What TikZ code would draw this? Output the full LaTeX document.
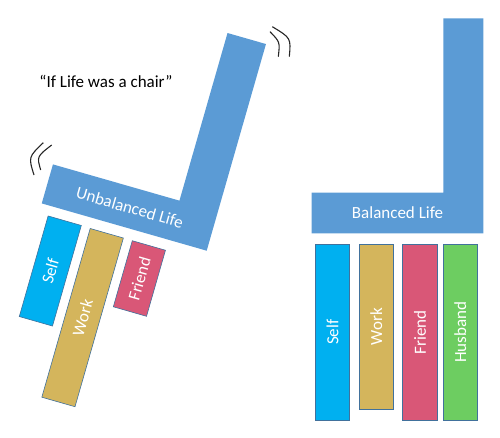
\documentclass[tikz,border=0pt]{standalone}
\usepackage{fontspec}
\setmainfont{Carlito}
\definecolor{lifeblue}{HTML}{5B9BD5}
\definecolor{selfc}{HTML}{00B0F0}
\definecolor{workc}{HTML}{D4B55C}
\definecolor{friendc}{HTML}{D95777}
\definecolor{husbc}{HTML}{6DCD61}
\definecolor{outl}{HTML}{41719C}
\begin{document}
\begin{tikzpicture}[x=1pt,y=-1pt,
  lshape/.style={fill=lifeblue},
  lifelabel/.style={text=white,font=\fontsize{17}{20}\selectfont,inner sep=0pt},
  bar/.style={draw=outl,line width=0.6pt,text=white,font=\fontsize{17}{20}\selectfont,
    inner sep=0pt,outer sep=0pt,minimum height=34.5},
  wig/.style={draw=black!85,line width=1.1pt}]
\useasboundingbox (0,0) rectangle (500,437);
% title
\node[font=\fontsize{17}{20}\selectfont,inner sep=0pt] (title) at (106,81) {“If Life was a chair”};
% balanced L
\begin{scope}[shift={(483.3,233.3)}]
  \fill[lshape] (-171.6,-40.6) -- (-40,-40.6) -- (-40,-215) -- (0,-215) -- (0,0) -- (-171.6,0) -- cycle;
  \node[lifelabel] (bal) at (-85.8,-20.3) {Balanced Life};
\end{scope}
% unbalanced L
\begin{scope}[shift={(206.7,250.7)},rotate=-16]
  \fill[lshape] (-171.6,-40.6) -- (-40,-40.6) -- (-40,-215) -- (0,-215) -- (0,0) -- (-171.6,0) -- cycle;
  \node[lifelabel,transform shape] (unbal) at (-85.8,-20.3) {Unbalanced Life};
\end{scope}
% balanced bars
\node[bar,fill=selfc,rotate=90,minimum width=175.7] (rself) at (332.5,332.2) {Self};
\node[bar,fill=workc,rotate=90,minimum width=165] (rwork) at (376.2,326.8) {Work};
\node[bar,fill=friendc,rotate=90,minimum width=175.7] (rfriend) at (420,332.2) {Friend};
\node[bar,fill=husbc,rotate=90,minimum width=175.7] (rhusb) at (460.3,332.2) {Husband};
% unbalanced bars
\node[bar,fill=selfc,rotate=74,minimum width=104.6] (lself) at (50.3,271) {Self};
\node[bar,fill=workc,rotate=74,minimum width=175.5] (lwork) at (82.6,317.6) {Work};
\node[bar,fill=friendc,rotate=74,minimum width=68.7] (lfriend) at (139.4,278.5) {Friend};
% wobble marks
\draw[wig] (43.3,142.7) .. controls (28.4,157) .. (34,175);
\draw[wig] (51.7,145) .. controls (36.8,156.5) .. (40.7,170);
\draw[wig] (272.3,26.7) .. controls (291,38) .. (289.3,56.7);
\draw[wig] (270,31.7) .. controls (280,42) .. (278.3,56.7);
\end{tikzpicture}
\end{document}
